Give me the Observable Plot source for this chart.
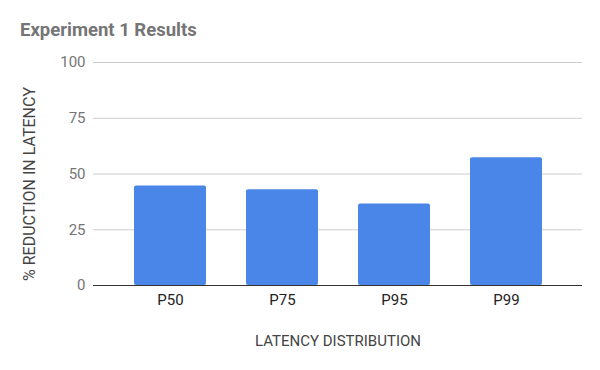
<!DOCTYPE html>
<html>
<head>
<meta charset="utf-8">
<script src="https://cdn.jsdelivr.net/npm/d3@7"></script>
<script src="https://cdn.jsdelivr.net/npm/@observablehq/plot@0.6"></script>
<style>
  body { margin: 0; background: #fff; font-family: Roboto, sans-serif; }
  #title { height: 48px; box-sizing: border-box; padding: 19px 0 0 20px; font: bold 18.5px Roboto, sans-serif; color: #757575; }
  #chart svg g[aria-label="x-axis tick label"] text { fill: #222; }
  #chart svg g[aria-label="x-axis label"] text { fill: #444; }
  #chart svg g[aria-label="y-axis label"] text { fill: #444; font-size: 16px; }
</style>
</head>
<body>
<div id="title">Experiment 1 Results</div>
<div id="chart"></div>
<script>
const categories = ["P50", "P75", "P95", "P99"];
const values = [44.6, 42.9, 36.5, 57.3];
const yTicks = [0, 25, 50, 75, 100];
const data = categories.map((c, i) => ({category: c, value: values[i]}));

const chart = Plot.plot({
  width: 600,
  height: 322,
  marginLeft: 93,
  marginRight: 18,
  marginTop: 14,
  marginBottom: 85,
  style: {fontFamily: "Roboto, sans-serif", fontSize: "15px", color: "#757575", background: "#fff"},
  x: {domain: categories, padding: 0.36, label: "LATENCY DISTRIBUTION", labelAnchor: "center", labelOffset: 60, labelArrow: false, tickSize: 0, tickPadding: 9},
  y: {domain: [0, 100], ticks: yTicks, label: "% REDUCTION IN LATENCY", labelAnchor: "center", labelOffset: 70, labelArrow: false, tickSize: 0, tickPadding: 8},
  marks: [
    Plot.ruleY(yTicks.slice(1), {stroke: "#cccccc"}),
    Plot.barY(data, {x: "category", y: "value", fill: "#4a86e8", rx: 2}),
    Plot.ruleY([0], {stroke: "#333333"})
  ]
});
d3.select(chart).select('g[aria-label="y-axis label"] text').attr("dx", -10);
document.getElementById("chart").appendChild(chart);
</script>
</body>
</html>
